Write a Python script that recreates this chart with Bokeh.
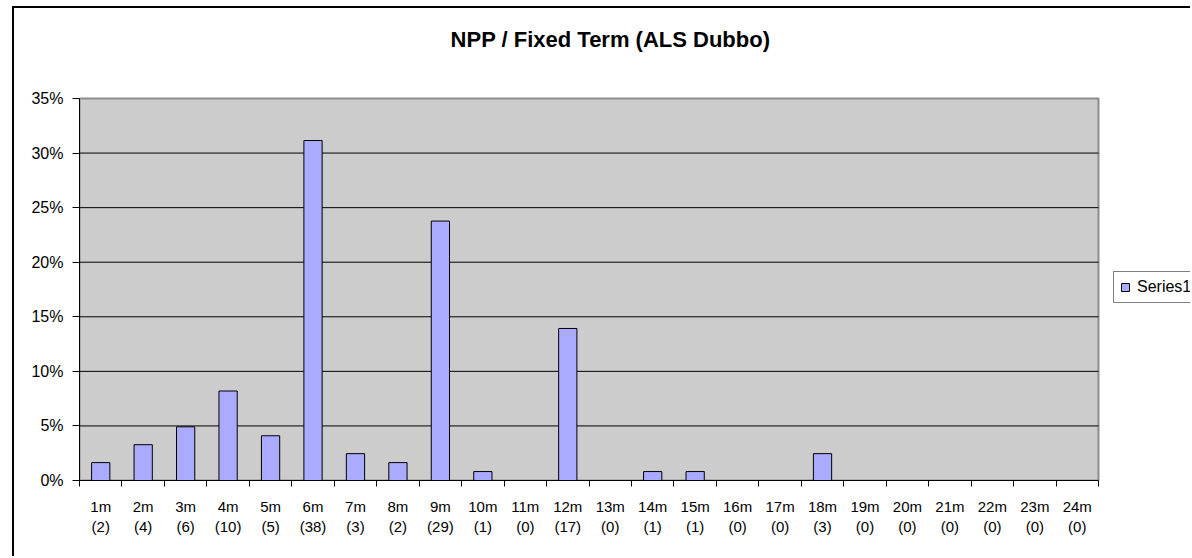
from bokeh.plotting import figure
from bokeh.layouts import column
from bokeh.models import (FixedTicker, LinearAxis, Range1d, Legend, LegendItem,
                          NumeralTickFormatter, Label)
from bokeh.embed import file_html
from bokeh.resources import INLINE

months = ["1m", "2m", "3m", "4m", "5m", "6m", "7m", "8m", "9m", "10m", "11m", "12m",
          "13m", "14m", "15m", "16m", "17m", "18m", "19m", "20m", "21m", "22m", "23m", "24m"]
counts = [2, 4, 6, 10, 5, 38, 3, 2, 29, 1, 0, 17, 0, 1, 1, 0, 0, 3, 0, 0, 0, 0, 0, 0]
shares = [0.0164, 0.0328, 0.0492, 0.0820, 0.0410, 0.3115, 0.0246, 0.0164, 0.2377, 0.0082,
          0.0, 0.1393, 0.0, 0.0082, 0.0082, 0.0, 0.0, 0.0246, 0.0, 0.0, 0.0, 0.0, 0.0, 0.0]
y_ticks = [0.0, 0.05, 0.10, 0.15, 0.20, 0.25, 0.30, 0.35]
title_text = "NPP / Fixed Term (ALS Dubbo)"
legend_label = "Series1"

FONT = "Liberation Sans"
xs = list(range(1, len(months) + 1))
n = len(months)

# page geometry (pixels): canvas starts at (14, 8); plot area spans x 79..1098, y 98..480
W, H = 1176, 548
CANVAS_LEFT, CANVAS_TOP = 14, 8
AREA_LEFT, AREA_RIGHT = 79, 1098
AREA_TOP, AREA_BOTTOM = 98, 480
TITLE_CX, TITLE_CY = 610, 39
LEGEND_LEFT, LEGEND_BOTTOM = 1113, 303

px_x = (AREA_RIGHT - AREA_LEFT) / n
px_y = (AREA_BOTTOM - AREA_TOP) / y_ticks[-1]
x_end = 0.5 + (CANVAS_LEFT + W - AREA_LEFT) / px_x
y_end = y_ticks[-1] + (AREA_TOP - CANVAS_TOP) / px_y

p = figure(width=W, height=H, output_backend="svg", toolbar_location=None, tools="",
           x_range=Range1d(0.5, x_end), y_range=Range1d(0, y_end),
           min_border_left=AREA_LEFT - CANVAS_LEFT, min_border_right=0,
           min_border_top=0, min_border_bottom=CANVAS_TOP + H - AREA_BOTTOM,
           x_axis_location=None, y_axis_location=None,
           background_fill_color="white", border_fill_color="white")
p.toolbar.logo = None
p.outline_line_color = None
p.xgrid.visible = False
p.ygrid.visible = False

# gray plot area
p.quad(left=[0.5], right=[n + 0.5], bottom=[y_ticks[0]], top=[y_ticks[-1]],
       fill_color="#CCCCCC", line_color="#8C8C8C", line_width=2)
# horizontal gridlines
p.segment(x0=[0.5] * (len(y_ticks) - 2), x1=[n + 0.5] * (len(y_ticks) - 2),
          y0=y_ticks[1:-1], y1=y_ticks[1:-1], line_color="black", line_width=1)

r = p.vbar(x=xs, top=shares, width=0.43, fill_color="#AAAAFF", line_color="black", line_width=1)

# title
p.add_layout(Label(x=0.5 + (TITLE_CX - AREA_LEFT) / px_x, y=(AREA_BOTTOM - TITLE_CY) / px_y,
                   text=title_text, text_align="center", text_baseline="middle",
                   text_font=FONT, text_font_size="22px", text_font_style="bold",
                   text_color="black"))

# y axis
yax = LinearAxis(ticker=FixedTicker(ticks=y_ticks),
                 formatter=NumeralTickFormatter(format="0%"), bounds=(0, y_ticks[-1]))
yax.axis_line_color = "black"
yax.major_tick_line_color = "black"
yax.major_tick_out = 7
yax.major_tick_in = 0
yax.minor_tick_line_color = None
yax.major_label_text_font = FONT
yax.major_label_text_font_size = "16px"
yax.major_label_text_color = "black"
yax.major_label_standoff = 9
p.add_layout(yax, "left")

# x axis: two-line labels, tick marks at category boundaries
xax = LinearAxis(ticker=FixedTicker(ticks=xs, minor_ticks=[x - 0.5 for x in xs] + [n + 0.5]),
                 bounds=(0.5, n + 0.5))
xax.major_label_overrides = {x: "%s\n(%d)" % (m, c) for x, m, c in zip(xs, months, counts)}
xax.axis_line_color = "black"
xax.major_tick_line_color = None
xax.major_tick_out = 0
xax.major_tick_in = 0
xax.minor_tick_line_color = "black"
xax.minor_tick_out = 6
xax.minor_tick_in = 0
xax.major_label_text_font = FONT
xax.major_label_text_font_size = "15px"
xax.major_label_text_color = "black"
xax.major_label_standoff = 11
p.add_layout(xax, "below")

legend = Legend(items=[LegendItem(label=legend_label, renderers=[r])],
                location=(LEGEND_LEFT - AREA_LEFT, AREA_BOTTOM - LEGEND_BOTTOM))
legend.border_line_color = "black"
legend.border_line_width = 1
legend.background_fill_color = "white"
legend.background_fill_alpha = 1
legend.label_text_font = FONT
legend.label_text_font_size = "16px"
legend.label_text_color = "black"
legend.glyph_width = 10
legend.glyph_height = 10
legend.padding = 6
legend.margin = 0
legend.spacing = 0
legend.label_standoff = 7
p.add_layout(legend, "center")

root = column(p, styles={"margin-left": "12px", "margin-top": "6px",
                         "border-left": "2px solid black", "border-top": "2px solid black"})

open("out.html", "w").write(file_html(root, INLINE))
